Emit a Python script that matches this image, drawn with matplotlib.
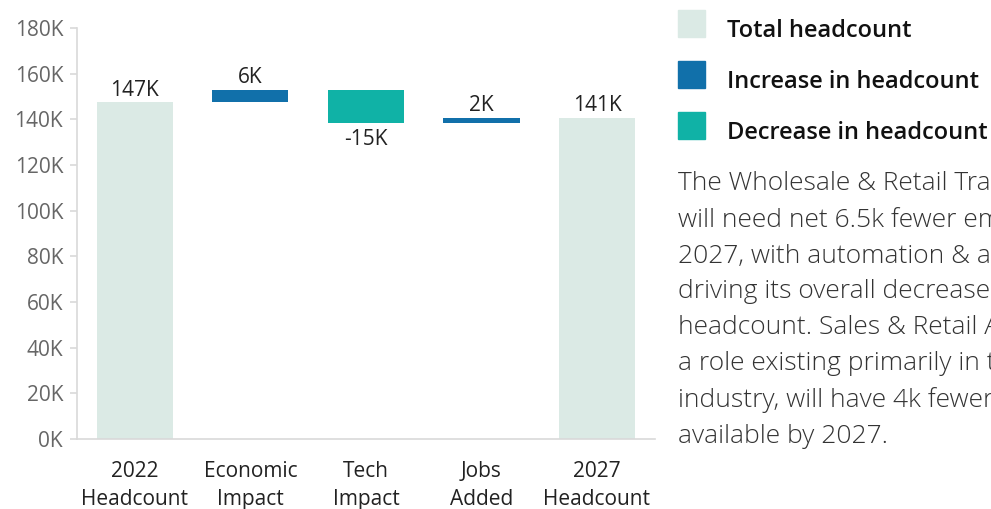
import numpy as np
import matplotlib.pyplot as plt
from matplotlib.patches import Rectangle

plt.rcParams['font.family'] = ['Open Sans', 'DejaVu Sans']

# waterfall steps, in thousands
categories = ['2022\nHeadcount', 'Economic\nImpact', 'Tech\nImpact', 'Jobs\nAdded', '2027\nHeadcount']
start_total = 147.4
changes = [5.6, -14.6, 2.3]
end_total = 140.7
yticks = [0, 20, 40, 60, 80, 100, 120, 140, 160, 180]

c_total = '#dbeae5'
c_up = '#1170aa'
c_down = '#10b2a6'

# build bar bottoms / heights from the running total
bottoms = [0]
heights = [start_total]
colors = [c_total]
labels = ['%dK' % round(start_total)]
running = start_total
for d in changes:
    bottoms.append(running if d > 0 else running + d)
    heights.append(abs(d))
    colors.append(c_up if d > 0 else c_down)
    labels.append('%dK' % round(d))
    running += d
bottoms.append(0)
heights.append(end_total)
colors.append(c_total)
labels.append('%dK' % round(end_total))

fig = plt.figure(figsize=(9.91, 5.09), dpi=100)
ax = fig.add_axes([0.0777, 0.1375, 0.583, 0.8075])

x = np.arange(len(categories))
ax.bar(x, heights, bottom=bottoms, width=0.66, color=colors)

for i, (b, h, lab) in enumerate(zip(bottoms, heights, labels)):
    if i in (1, 2, 3) and changes[i - 1] < 0:
        ax.text(i, b - 2.6, lab, ha='center', va='top', fontsize=15, color='#222222')
    else:
        ax.text(i, b + h + 0.8, lab, ha='center', va='bottom', fontsize=15, color='#222222')

ax.set_xlim(-0.5, 4.5)
ax.set_ylim(0, 180)
ax.set_yticks(yticks)
ax.set_yticklabels(['%dK' % v for v in yticks], fontsize=15, color='#666666')
ax.set_xticks(x)
ax.set_xticklabels(categories, fontsize=15, color='#222222', linespacing=1.45)
ax.tick_params(axis='x', length=0, pad=16)
ax.tick_params(axis='y', length=5, width=1.2, color='#d9d9d9', pad=5)
for s in ('top', 'right'):
    ax.spines[s].set_visible(False)
ax.spines['left'].set_color('#d9d9d9')
ax.spines['left'].set_linewidth(1.2)
ax.spines['bottom'].set_color('#d9d9d9')
ax.spines['bottom'].set_linewidth(1.2)

# legend on the right
legend_items = [('Total headcount', c_total), ('Increase in headcount', c_up),
                ('Decrease in headcount', c_down)]
W, H = 991.0, 509.0
for k, (name, col) in enumerate(legend_items):
    y0 = 10 + k * 51
    fig.patches.append(Rectangle((678 / W, 1 - (y0 + 27) / H), 27 / W, 27 / H,
                                 transform=fig.transFigure, color=col))
    fig.text(727 / W, 1 - (y0 + 27) / H, name, fontsize=17, fontweight='semibold',
             color='#111111', va='baseline', ha='left')

note = ('The Wholesale & Retail Trade industry\n'
        'will need net 6.5k fewer employees by\n'
        '2027, with automation & augmentation\n'
        'driving its overall decrease in\n'
        'headcount. Sales & Retail Assistants,\n'
        'a role existing primarily in this\n'
        'industry, will have 4k fewer positions\n'
        'available by 2027.')
fig.text(678 / W, 1 - 171 / H, note, fontsize=19, fontweight='light', color='#333333',
         va='top', ha='left', linespacing=1.56)

fig.savefig('out.png', dpi=100)
